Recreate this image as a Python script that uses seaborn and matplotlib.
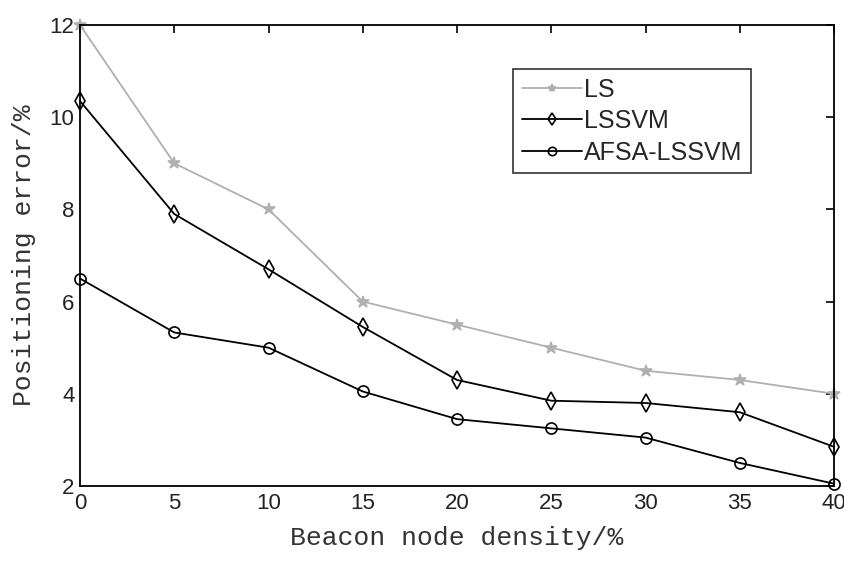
import matplotlib
matplotlib.use("Agg")
import matplotlib.pyplot as plt
import seaborn as sns
import pandas as pd

density = [0, 5, 10, 15, 20, 25, 30, 35, 40]
ls_err = [12.0, 9.0, 8.0, 6.0, 5.5, 5.0, 4.5, 4.3, 4.0]
lssvm_err = [10.35, 7.9, 6.7, 5.45, 4.3, 3.85, 3.8, 3.6, 2.85]
afsa_err = [6.5, 5.33, 5.0, 4.05, 3.45, 3.25, 3.05, 2.5, 2.05]
series_names = ["LS", "LSSVM", "AFSA-LSSVM"]
x_label = "Beacon node density/%"
y_label = "Positioning error/%"

df = pd.DataFrame({
    "x": density * 3,
    "y": ls_err + lssvm_err + afsa_err,
    "method": [series_names[0]] * 9 + [series_names[1]] * 9 + [series_names[2]] * 9,
})

sns.set_style("white")
plt.rcParams["font.family"] = ["Liberation Sans", "DejaVu Sans"]

fig = plt.figure(figsize=(8.45, 5.63), dpi=100)
ax = fig.add_axes([0.0947, 0.1368, 0.8923, 0.8188])

colors = {"LS": "#b0b0b0", "LSSVM": "black", "AFSA-LSSVM": "black"}
markers = {"LS": "*", "LSSVM": "d", "AFSA-LSSVM": "o"}
sizes = {"LS": 9, "LSSVM": 9, "AFSA-LSSVM": 8}
for name in series_names:
    sub = df[df["method"] == name]
    sns.lineplot(data=sub, x="x", y="y", color=colors[name], marker=markers[name],
                 markersize=sizes[name], linewidth=1.3, ax=ax, label=name)
    line = ax.get_lines()[-1]
    line.set_markeredgecolor(colors[name])
    line.set_markeredgewidth(1.2)
    line.set_markerfacecolor(colors[name] if name == "LS" else "none")
    line.set_clip_on(False)

ax.set_xlim(0, 40)
ax.set_ylim(2, 12)
ax.set_xticks(range(0, 41, 5))
ax.set_yticks(range(2, 13, 2))
ax.tick_params(direction="in", length=6, width=1.2, top=True, right=True,
               labelsize=16, colors="black")
ax.tick_params(axis="x", pad=5)
ax.tick_params(axis="y", pad=4)
for lab in ax.get_xticklabels() + ax.get_yticklabels():
    lab.set_color("#222222")
for sp in ax.spines.values():
    sp.set_linewidth(1.3)
    sp.set_color("black")

mono = ["Liberation Mono", "DejaVu Sans Mono"]
ax.set_xlabel(x_label, fontsize=19, family=mono, color="#333333", labelpad=9)
ax.set_ylabel(y_label, fontsize=19, family=mono, color="#333333", labelpad=10)

leg = ax.legend(loc="upper left", bbox_to_anchor=(0.574, 0.905), fontsize=18,
                frameon=True, fancybox=False, edgecolor="black",
                handlelength=2.4, handletextpad=0.1, borderpad=0.35,
                labelspacing=0.3, borderaxespad=0)
leg.get_frame().set_linewidth(1.2)
for h, name in zip(leg.legend_handles, series_names):
    h.set_markeredgecolor(colors[name])
    h.set_markerfacecolor(colors[name] if name == "LS" else "none")
    h.set_markersize(6)

fig.savefig("out.png", dpi=100)
